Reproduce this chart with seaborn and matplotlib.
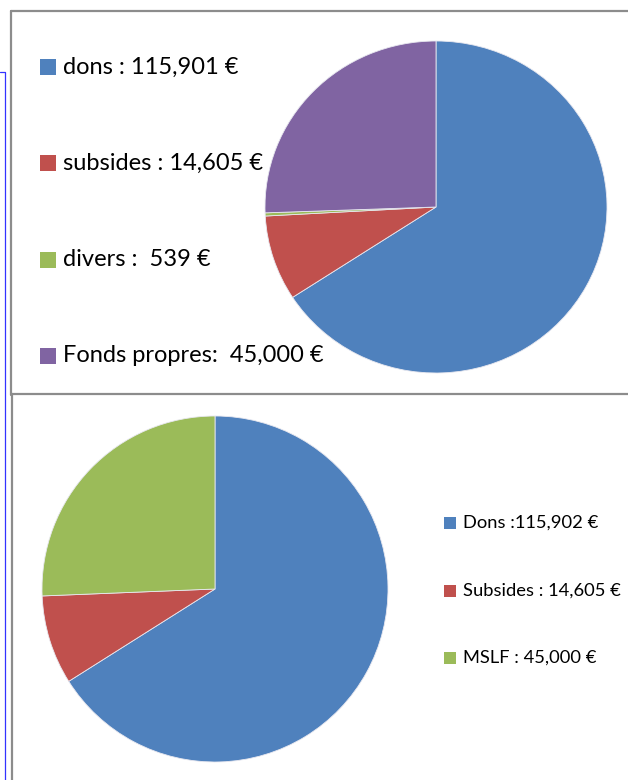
import matplotlib
matplotlib.use("Agg")
import matplotlib.pyplot as plt
import seaborn as sns
from matplotlib.patches import Rectangle
from matplotlib.lines import Line2D

sns.set_theme(style="white")
plt.rcParams['font.family'] = ['Lato', 'DejaVu Sans']

# top chart
top_labels = ["dons : 115,901 €", "subsides : 14,605 €", "divers :  539 €", "Fonds propres:  45,000 €"]
top_values = [115901, 14605, 539, 45000]
top_colors = ["#4F81BD", "#C0504D", "#9BBB59", "#8064A2"]

# bottom chart
bot_labels = ["Dons :115,902 €", "Subsides : 14,605 €", "MSLF : 45,000 €"]
bot_values = [115902, 14605, 45000]
bot_colors = ["#4F81BD", "#C0504D", "#9BBB59"]

W, H = 628, 780
fig = plt.figure(figsize=(W / 100, H / 100), dpi=100)
fig.patch.set_facecolor("white")


def px_axes(x0, y0, x1, y1):
    # pixel box (top-left origin) -> figure axes
    return fig.add_axes([x0 / W, 1 - y1 / H, (x1 - x0) / W, (y1 - y0) / H])


def pie(ax, values, colors):
    ax.pie(values, colors=colors, startangle=90, counterclock=False,
           wedgeprops=dict(linewidth=0.6, edgecolor="#e8e8f0"))
    ax.set_aspect("auto")
    ax.set_xlim(-1, 1)
    ax.set_ylim(-1, 1)
    ax.axis("off")


def legend(labels, colors, x, y0, step, sq, size, gap):
    for i, (lab, c) in enumerate(zip(labels, colors)):
        yc = y0 + i * step
        fig.patches.append(Rectangle((x / W, 1 - (yc + sq / 2) / H), sq / W, sq / H,
                                     transform=fig.transFigure, facecolor=c,
                                     edgecolor="none"))
        fig.text((x + sq + gap) / W, 1 - yc / H, lab, fontsize=size, color="black",
                 va="center", ha="left", zorder=5)


# panel frames
grey = "#8c8c8c"
fig.lines.append(Line2D([11 / W, 1.01], [1 - 11 / H] * 2, transform=fig.transFigure, color=grey, lw=1.6))
fig.lines.append(Line2D([11 / W] * 2, [1 - 11 / H, 1 - 395 / H], transform=fig.transFigure, color=grey, lw=1.6))
fig.lines.append(Line2D([11 / W, 1.01], [1 - 394 / H] * 2, transform=fig.transFigure, color=grey, lw=1.6))
fig.lines.append(Line2D([12 / W] * 2, [1 - 394 / H, -0.01], transform=fig.transFigure, color=grey, lw=1.6))
# blue side line
fig.lines.append(Line2D([0, 5 / W, 5 / W], [1 - 72 / H, 1 - 72 / H, -0.01], transform=fig.transFigure, color="#3333ff", lw=0.9))

ax1 = px_axes(265, 41, 607, 373)
pie(ax1, top_values, top_colors)
legend(top_labels, top_colors, 40, 67, 96.3, 16, 17, 7)

ax2 = px_axes(42, 416, 388, 762)
pie(ax2, bot_values, bot_colors)
legend(bot_labels, bot_colors, 444, 523, 67.5, 12, 13.2, 7)

fig.savefig("out.png", dpi=100)
